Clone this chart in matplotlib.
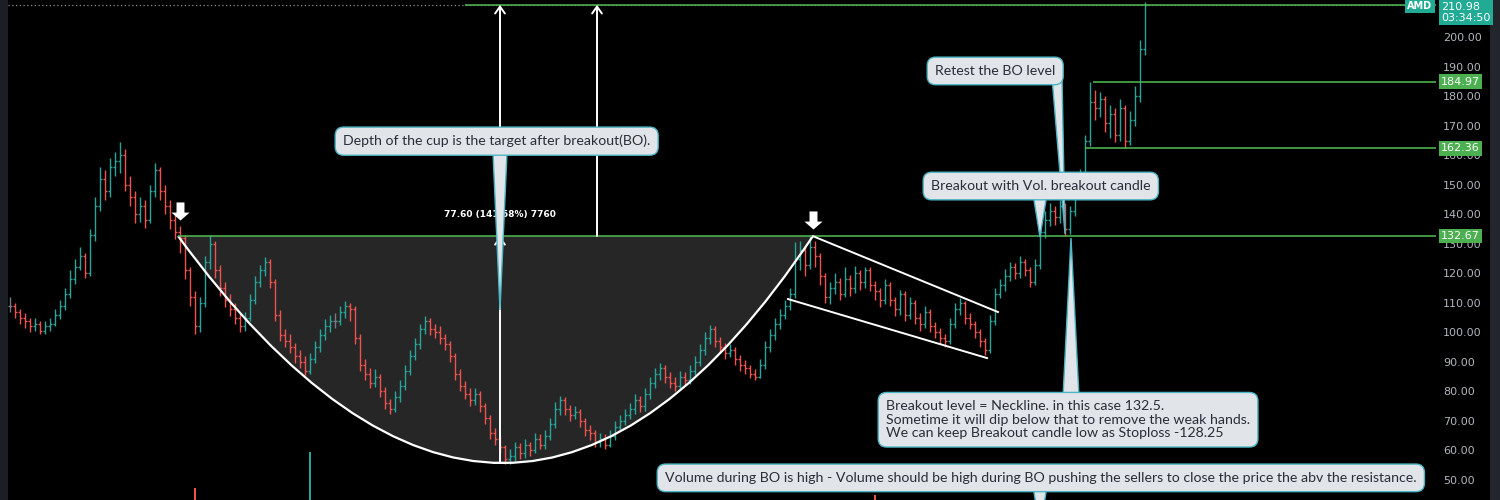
"""
AMD cup & handle breakout chart (TradingView style)
"""
import numpy as np
import matplotlib.pyplot as plt
from matplotlib.path import Path
from matplotlib.patches import PathPatch, Polygon, Rectangle
from matplotlib.transforms import blended_transform_factory


# daily bars, one every index step
closes = [109, 107, 105, 104, 102, 103, 100.5, 102, 103, 106, 109, 113, 118, 122, 126, 120, 133, 143, 152, 148,
          156, 158, 160, 150, 146, 140, 143, 138, 148, 155, 148, 143, 138, 134, 132, 121, 112, 102, 110, 124,
          130, 121, 115, 111, 108, 105, 102, 105, 111, 117, 121, 124, 117, 106, 99, 97, 95, 92, 90, 87,
          91, 95, 99, 102, 104, 104, 107, 109, 108, 98, 89, 86, 83, 85, 80, 76, 74, 78, 82, 87,
          92, 96, 101, 104, 101, 100, 98, 96, 92, 86, 82, 79, 77, 79, 75, 71, 66, 64, 61, 57,
          58, 61, 59, 62, 60, 64, 62, 65, 69, 74, 77, 74, 72, 73, 70, 67, 66, 63, 64, 62,
          65, 68, 70, 72, 74, 77, 75, 79, 83, 86, 88, 85, 83, 82, 85, 84, 87, 90, 94, 98,
          101, 97, 95, 93, 94, 91, 89, 88, 86, 85, 89, 95, 99, 103, 106, 109, 113, 125, 128, 123,
          129, 126, 119, 112, 115, 117, 113, 118, 115, 120, 117, 121, 116, 114, 111, 116, 111, 108, 113, 106,
          110, 105, 103, 107, 102, 100, 98, 97, 103, 108, 110, 105, 103, 100, 97, 94, 104, 113, 116, 119,
          122, 120, 124, 121, 117, 123, 134, 138, 141, 139, 143, 135, 141, 148, 153, 165, 178, 176, 179, 171,
          174, 167, 176, 165, 172, 180, 196, 210.98]
highs = [112, 110, 108, 106.5, 105, 105, 104, 104, 105, 108, 111, 115, 121, 125, 129, 127, 135, 146, 156, 155,
         159, 161, 164.5, 162, 153, 148, 146, 145, 150, 157.5, 156, 150, 145, 140, 136, 133, 122, 114, 112, 126,
         133, 131, 123, 117, 113, 110, 106.5, 107, 113, 119, 123, 125.5, 125, 118, 107.5, 101, 99.5, 96.5, 94, 92,
         93, 97, 101, 104.5, 106, 106.5, 109, 110.5, 110, 109, 99.5, 91, 88, 87.5, 86, 81.5, 77.5, 80, 84, 89,
         94, 98, 103, 105.5, 105, 103, 102, 99.5, 97, 93, 87.5, 83.5, 81, 81, 80, 76, 72, 67.5, 65, 62,
         60.5, 63, 62.5, 64, 63, 66, 65.5, 67, 71, 76.5, 78.5, 78, 75.5, 75, 74, 71, 68.5, 67, 66, 65.5,
         67, 70, 72, 74, 76, 79, 78.5, 81, 85, 88, 89.5, 89, 86.5, 85, 87, 86.5, 89, 92, 96, 100,
         102.5, 102, 98.5, 96.5, 96, 95, 92.5, 90.5, 89, 87.5, 91, 97, 101, 105, 108, 111, 115, 130.5, 131, 129,
         132.6, 131, 127, 120, 117, 120, 118.5, 122, 119.5, 122.5, 121, 122, 122, 117.5, 115, 118, 117, 112, 114.5, 114,
         112, 111, 106.5, 109, 108, 103.5, 101.5, 99.5, 105, 110, 111.5, 110.5, 106.5, 104, 101, 98, 106, 115, 118, 121.5,
         124, 123.5, 126, 125, 122, 125, 136, 141, 144, 143, 145, 144, 143, 150, 155.5, 167, 185, 182, 181.5, 180,
         177, 176, 179, 177, 175, 183.5, 199, 212]
lows = [107, 105, 103, 101.5, 100, 100.5, 99.5, 99.5, 100.5, 102, 104.5, 107.5, 111.5, 116.5, 121, 118.5, 119, 131, 141, 145,
        146, 153, 154, 148, 143, 137, 137.5, 135.5, 137, 146, 145, 140, 135, 131.5, 127, 118, 109, 99.5, 100, 108.5,
        121.5, 118.5, 112.5, 108.5, 105.5, 103, 100, 100.5, 104, 109.5, 115.5, 119, 115, 104, 97, 95, 93, 89.5, 88, 85.5,
        86, 89.5, 93.5, 97.5, 100, 101.5, 102.5, 105, 104, 96, 87, 84, 81, 81.5, 78, 74, 72.5, 73, 76.5, 80.5,
        85.5, 90.5, 94.5, 99.5, 99, 98, 96, 94, 90, 84, 80, 77.5, 75, 75.5, 73, 69, 64, 62, 59, 55.5,
        55.5, 56.5, 57, 57.5, 58, 59, 60.5, 60.5, 63.5, 67.5, 72, 72, 70, 70.5, 68, 65, 63.5, 61, 61, 60.5,
        61, 63.5, 66.5, 68.5, 70.5, 72.5, 73, 73.5, 77.5, 81, 84, 83, 81, 80, 80.5, 82, 82.5, 85.5, 88.5, 92.5,
        96, 95, 93, 91, 91.5, 89, 87, 86, 84.5, 84, 84.5, 87.5, 93.5, 97.5, 101, 104.5, 107.5, 111.5, 121, 119,
        121.5, 122, 116, 110, 109.5, 113, 111, 112, 112.5, 113.5, 114.5, 115, 114, 111, 108.5, 109.5, 109, 105.5, 106, 104,
        104.5, 103, 100.5, 101.5, 100, 98, 96, 95, 96, 101.5, 106, 103, 101, 98, 95, 92.5, 93, 102.5, 111.5, 114,
        117.5, 118, 118.5, 119, 115.5, 116, 121.5, 132, 136, 136.5, 137, 132.5, 133.5, 139.5, 146, 151.5, 163, 172, 173, 168,
        166, 164.5, 165, 162.4, 163.5, 170, 178, 194]

# the few volume spikes tall enough to reach into view
volume_idx = [37, 60, 173]
volume_vals = [24, 96, 10]

# price scale
price_ticks = list(range(50, 201, 10))
price_min, price_max = 43.2, 212.64

# drawn levels
neckline = 132.67
cup_bottom = 55.75
target = 211.0
last_price = 210.98
level_lines = [(216.6, 184.97), (215.0, 162.36)]

# cup curve (quadratic bezier): start, control, end
cup_start = (33.6, neckline)
cup_ctrl = (100.1, -21.2)
cup_end = (160.6, neckline)

# flag / channel after the cup
channel_upper = [(160.6, 132.6), (197.6, 106.9)]
channel_lower = [(155.6, 111.3), (195.4, 91.3)]

# pivot markers
pivot_x = [34, 160.6]
pivot_y = [141.2, 138.2]

UP = '#26a69a'
DOWN = '#ef5350'
FLAT = '#787b86'
GREEN = '#4caf50'
TEAL = '#22ab94'
BOX_FC = '#e1e4e8'
BOX_EC = '#4db6c4'


def callout(ax, text, x, y, base_x, base_y, tip):
    ax.text(x, y, text, ha='left', va='center', fontsize=10.2, family=['Lato', 'DejaVu Sans'],
            color='#2a2e39', zorder=9, linespacing=1.15,
            bbox=dict(boxstyle='round,pad=0.55,rounding_size=0.6', fc=BOX_FC, ec=BOX_EC, lw=1))
    ax.add_patch(Polygon([(base_x[0], base_y), (base_x[1], base_y), tip], closed=True,
                         fc=BOX_FC, ec=BOX_EC, lw=1, zorder=8))


def drawChart():
    fig = plt.figure(figsize=(15, 5), dpi=100, facecolor='black')
    ax = fig.add_axes([8 / 1500, 0, 1428 / 1500, 1])
    ax.set_facecolor('black')
    ax.patch.set_visible(False)
    ax.set_zorder(2)
    ax.set_xlim(-0.4, 285.2)
    ax.set_ylim(price_min, price_max)
    for s in ax.spines.values():
        s.set_visible(False)

    # volume overlay sits under the price pane
    axv = ax.twinx()
    axv.set_zorder(1)
    axv.set_ylim(0, 1000)
    axv.axis('off')
    vcol = [UP if closes[i] > closes[i - 1] else DOWN for i in volume_idx]
    axv.bar(volume_idx, volume_vals, width=0.5, color=vcol, bottom=0)

    # ohlc bars
    c = np.array(closes, dtype=float)
    h = np.array(highs, dtype=float)
    l = np.array(lows, dtype=float)
    o = np.r_[c[0], c[:-1]]
    x = np.arange(len(c))
    colors = np.where(c > o, UP, np.where(c < o, DOWN, FLAT))
    ax.vlines(x, l, h, colors=colors, lw=1.0, zorder=3)
    ax.hlines(o, x - 0.4, x, colors=colors, lw=1.0, zorder=3)
    ax.hlines(c, x, x + 0.4, colors=colors, lw=1.0, zorder=3)

    # cup fill + curve
    verts = [cup_start, cup_ctrl, cup_end, cup_start, cup_start]
    codes = [Path.MOVETO, Path.CURVE3, Path.CURVE3, Path.LINETO, Path.CLOSEPOLY]
    ax.add_patch(PathPatch(Path(verts, codes), fc='#262626', ec='none', zorder=1))
    curve = Path([cup_start, cup_ctrl, cup_end], [Path.MOVETO, Path.CURVE3, Path.CURVE3])
    ax.add_patch(PathPatch(curve, fc='none', ec='white', lw=1.6, zorder=4))

    # horizontal levels
    xr = ax.get_xlim()[1]
    ax.hlines(last_price, -0.4, xr, colors='#8a8d96', lw=0.9, linestyles=(0, (1, 2)), zorder=2)
    ax.hlines(neckline, cup_start[0], xr, colors=GREEN, lw=1.2, zorder=4)
    ax.hlines(target, 91, xr, colors=GREEN, lw=1.2, zorder=4)
    for x0, lvl in level_lines:
        ax.hlines(lvl, x0, xr, colors=GREEN, lw=1.2, zorder=4)

    # channel
    for seg in (channel_upper, channel_lower):
        ax.plot([seg[0][0], seg[1][0]], [seg[0][1], seg[1][1]], color='white', lw=1.4, zorder=4)

    # depth measurement arrows
    aprops = dict(arrowstyle='->,head_length=0.5,head_width=0.35', color='white', lw=1.4,
                  shrinkA=0, shrinkB=0)
    ax.annotate('', xy=(98, neckline), xytext=(98, cup_bottom), arrowprops=aprops, zorder=5)
    ax.annotate('', xy=(98, target), xytext=(98, neckline), arrowprops=aprops, zorder=5)
    ax.annotate('', xy=(117.4, target), xytext=(117.4, neckline), arrowprops=aprops, zorder=5)
    ax.hlines(cup_bottom, 96.6, 99.6, colors='white', lw=1.4, zorder=5)
    ax.text(98, 139.8, '77.60 (141.58%) 7760', ha='center', va='center', color='white',
            fontsize=6.5, fontweight='bold', zorder=6)

    # pivot arrows
    arrow = Path([(-0.22, 0.5), (0.22, 0.5), (0.22, -0.06), (0.5, -0.06), (0, -0.5),
                  (-0.5, -0.06), (-0.22, -0.06), (-0.22, 0.5)])
    ax.scatter(pivot_x, pivot_y, marker=arrow, s=170, color='white', zorder=6, linewidths=0)

    # callouts
    callout(ax, 'Depth of the cup is the target after breakout(BO).', 66.6, 164.8,
            (96.6, 99.4), 161.0, (98, 107.6))
    callout(ax, 'Retest the BO level', 185.0, 188.6, (208.4, 210.4), 186.5, (211, 133.4))
    callout(ax, 'Breakout with Vol. breakout candle', 184.2, 149.6, (204.6, 207.4), 147.0, (206, 132.3))
    callout(ax, 'Breakout level = Neckline. in this case 132.5.\n'
                'Sometime it will dip below that to remove the weak hands.\n'
                'We can keep Breakout candle low as Stoploss -128.25',
            175.2, 70.4, (210.6, 213.8), 78.0, (212.2, 132.0))
    callout(ax, 'Volume during BO is high - Volume should be high during BO pushing the sellers '
                'to close the price the abv the resistance.',
            131.0, 50.7, (204.6, 207.4), 48.0, (206, 33.0))

    # price scale
    ax.yaxis.tick_right()
    ax.set_yticks(price_ticks)
    ax.set_yticklabels([f'{v:.2f}' for v in price_ticks])
    ax.tick_params(axis='y', length=0, pad=5, labelsize=8, labelcolor='#b2b5be')
    ax.set_xticks([])

    tr = blended_transform_factory(ax.transAxes, ax.transData)
    for lvl in [184.97, 162.36, neckline]:
        ax.text(1.0035, lvl, f'{lvl:.2f}', transform=tr, ha='left', va='center', color='white',
                fontsize=8, clip_on=False, zorder=10,
                bbox=dict(boxstyle='square,pad=0.2', fc=GREEN, ec='none'))
    ax.text(1.0035, 208.4, f'{last_price:.2f}\n03:34:50', transform=tr, ha='left', va='center',
            color='white', fontsize=8, linespacing=1.05, clip_on=False, zorder=10,
            bbox=dict(boxstyle='square,pad=0.2', fc=TEAL, ec='none'))
    ax.text(0.9975, 210.6, 'AMD', transform=tr, ha='right', va='center', color='white',
            fontsize=7, fontweight='bold', clip_on=False, zorder=10,
            bbox=dict(boxstyle='square,pad=0.25', fc=TEAL, ec='none'))

    # panel borders
    fig.patches.append(Rectangle((0, 0), 8 / 1500, 1, transform=fig.transFigure, fc='#1b1e24', ec='none'))
    fig.patches.append(Rectangle((1490 / 1500, 0), 10 / 1500, 1, transform=fig.transFigure,
                                 fc='#22252c', ec='none'))

    fig.savefig('out.png', dpi=100, facecolor='black')


if __name__ == '__main__':
    drawChart()
